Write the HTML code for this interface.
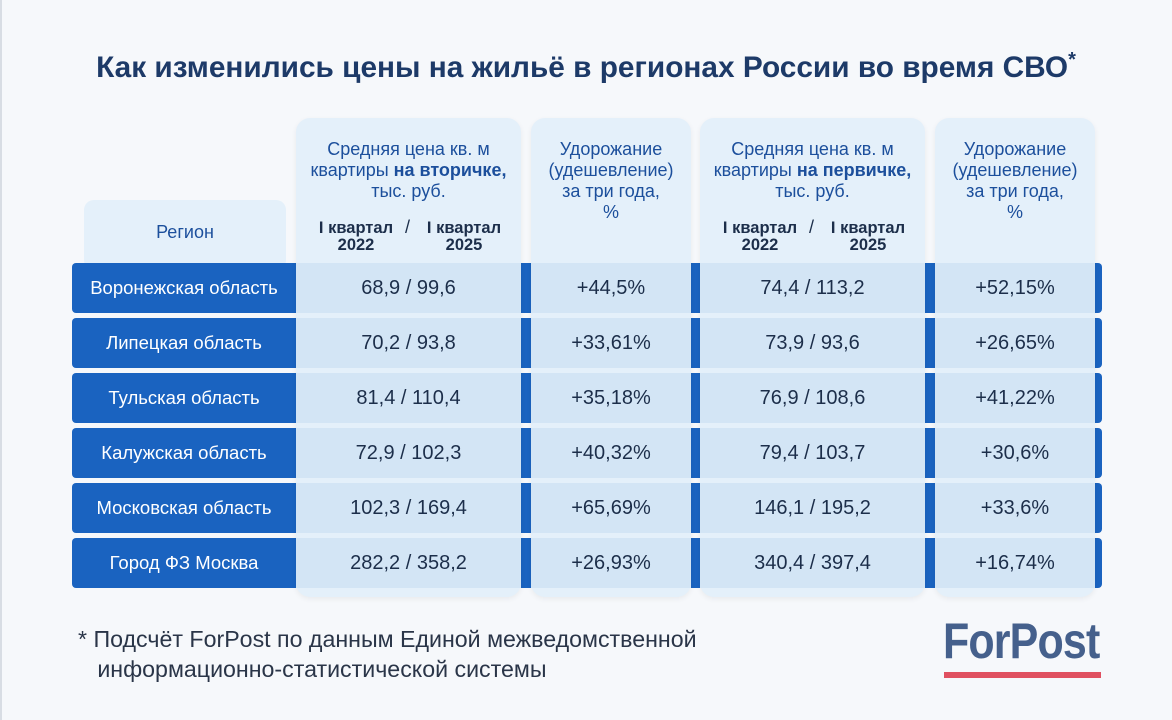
<!DOCTYPE html>
<html><head><meta charset="utf-8"><style>
body{margin:0;width:1172px;height:720px;background:#f6f8fb;font-family:"Liberation Sans","DejaVu Sans",sans-serif;position:relative;overflow:hidden}
.a{position:absolute}
.title{left:0;width:1172px;top:49px;text-align:center;font-size:29.8px;font-weight:bold;color:#1d3a68}
.band{left:72px;width:1030px;height:50px;background:#1a63c0;border-radius:4px}
.reg{left:72px;width:224px;height:50px;color:#fff;font-size:18.5px;display:flex;align-items:center;justify-content:center}
.card{top:118px;height:479px;background:#e4f0fa;border-radius:14px;box-shadow:0 2px 6px rgba(0,0,0,.06)}
.cell{height:50px;background:#d3e5f5;display:flex;align-items:center;justify-content:center;font-size:20px;color:#1c2e4a}
.hd{text-align:center;color:#1c4f9c;font-size:18px;line-height:21px}
.q{font-size:16.5px;font-weight:bold;color:#1c2e4a;line-height:17px;text-align:center;width:96px}
.note{left:78px;top:624px;font-size:23.2px;color:#2a3548;line-height:30px}
</style></head><body>
<div class="a" style="left:0;top:0;width:2px;height:720px;background:#d8dde4"></div>
<div class="a title">Как изменились цены на жильё в регионах России во время СВО<sup style="font-size:20px">*</sup></div>
<div class="a" style="left:84px;top:200px;width:202px;height:70px;background:#e4f0fa;border-radius:10px;display:flex;align-items:center;justify-content:center;color:#1c4f9c;font-size:18px;padding-bottom:6px;box-sizing:border-box">Регион</div>
<div id="rows"></div>
<div class="a card" style="left:296px;width:225px"></div>
<div class="a card" style="left:531px;width:160px"></div>
<div class="a card" style="left:700px;width:225px"></div>
<div class="a card" style="left:935px;width:160px"></div>
<div class="a hd" style="left:296px;width:225px;top:139px">Средняя цена кв. м<br>квартиры <b>на вторичке,</b><br>тыс. руб.</div>
<div class="a q" style="left:308px;top:220px">I квартал<br>2022</div>
<div class="a q" style="left:416px;top:220px">I квартал<br>2025</div>
<div class="a" style="left:405px;top:217px;font-size:18px;color:#1c2e4a">/</div>
<div class="a hd" style="left:531px;width:160px;top:139px">Удорожание<br>(удешевление)<br>за три года,<br>%</div>
<div class="a hd" style="left:700px;width:225px;top:139px">Средняя цена кв. м<br>квартиры <b>на первичке,</b><br>тыс. руб.</div>
<div class="a q" style="left:712px;top:220px">I квартал<br>2022</div>
<div class="a q" style="left:820px;top:220px">I квартал<br>2025</div>
<div class="a" style="left:809px;top:217px;font-size:18px;color:#1c2e4a">/</div>
<div class="a hd" style="left:935px;width:160px;top:139px">Удорожание<br>(удешевление)<br>за три года,<br>%</div>
<div id="cells"></div>
<div class="a note">* Подсчёт ForPost по данным Единой межведомственной<br>&nbsp;&nbsp;&nbsp;информационно-статистической системы</div>
<div class="a" style="left:943px;top:612px;font-size:50px;font-weight:bold;color:#45608c;letter-spacing:-1px;transform:scaleX(0.86);transform-origin:left top">ForPost</div>
<div class="a" style="left:944px;top:672px;width:157px;height:6px;background:#e05060"></div>
<script>
const regions=["Воронежская область","Липецкая область","Тульская область","Калужская область","Московская область","Город ФЗ Москва"];
const secPrice=["68,9 / 99,6","70,2 / 93,8","81,4 / 110,4","72,9 / 102,3","102,3 / 169,4","282,2 / 358,2"];
const secChange=["+44,5%","+33,61%","+35,18%","+40,32%","+65,69%","+26,93%"];
const priPrice=["74,4 / 113,2","73,9 / 93,6","76,9 / 108,6","79,4 / 103,7","146,1 / 195,2","340,4 / 397,4"];
const priChange=["+52,15%","+26,65%","+41,22%","+30,6%","+33,6%","+16,74%"];
const rows=document.getElementById('rows'),cells=document.getElementById('cells');
const cols=[[296,225,secPrice,'secondary-price'],[531,160,secChange,'secondary-change'],[700,225,priPrice,'primary-price'],[935,160,priChange,'primary-change']];
regions.forEach((r,i)=>{
 const y=263+i*55;
 const b=document.createElement('div');b.className='a band';b.style.top=y+'px';
 
 
 rows.appendChild(b);
 const l=document.createElement('div');l.className='a reg';l.style.top=y+'px';l.textContent=r;
 
 
 rows.appendChild(l);
 cols.forEach(c=>{
  const d=document.createElement('div');d.className='a cell';
  d.style.left=c[0]+'px';d.style.width=c[1]+'px';d.style.top=y+'px';d.textContent=c[2][i];
  
  
  cells.appendChild(d);
 });
});
</script>
</body></html>
